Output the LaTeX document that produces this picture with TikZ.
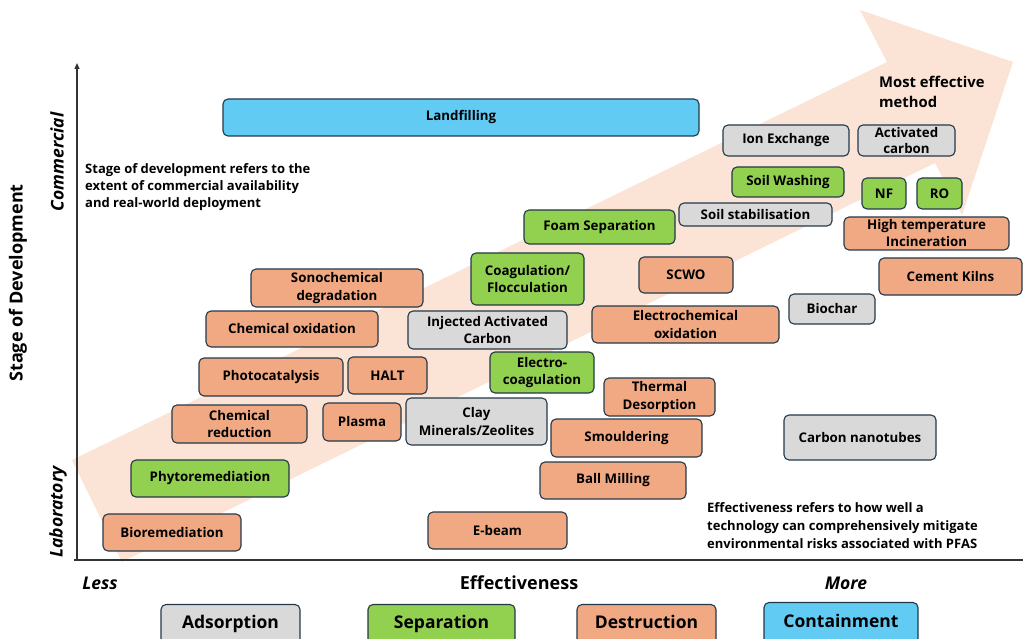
\documentclass[tikz,border=0pt]{standalone}
\usepackage{fontspec}
\setmainfont{Open Sans}
\usetikzlibrary{arrows.meta}
\definecolor{orangec}{HTML}{F1A983}
\definecolor{greenc}{HTML}{92D050}
\definecolor{grayc}{HTML}{D9D9D9}
\definecolor{bluec}{HTML}{61CBF3}
\definecolor{bordc}{HTML}{23394A}
\definecolor{arrowc}{HTML}{FBE3D6}
\definecolor{axisc}{HTML}{333333}
\tikzset{
  box/.style={draw=bordc, line width=1.1pt, rounded corners=5pt, align=center, inner sep=0pt,
    font=\bfseries\fontsize{13.3}{17.5}\selectfont, text=black},
  ads/.style={box, fill=grayc},
  sepa/.style={box, fill=greenc},
  des/.style={box, fill=orangec},
  con/.style={box, fill=bluec},
  legbox/.style={box, font=\bfseries\fontsize{17.5}{20}\selectfont, text height=12.5pt, text depth=4pt},
  note/.style={align=left, inner sep=0pt, anchor=west, font=\bfseries\fontsize{13}{17}\selectfont},
  axlab/.style={inner sep=0pt, font=\bfseries\itshape\fontsize{17.5}{20}\selectfont}
}
\begin{document}
\begin{tikzpicture}[x=1pt,y=-1pt]
\useasboundingbox (0,0) rectangle (1023,639);
\clip (0,0) rectangle (1023,639);
% big arrow
\fill[arrowc] (72,460) -- (887,62) -- (860,10) -- (1013,62) -- (962,215) -- (935,163) -- (122,562) -- cycle;
% axes
\coordinate (origin) at (77,560);
\coordinate (ytop) at (77,63);
\coordinate (xleft) at (74,560);
\coordinate (xright) at (1023,560);
\draw[axisc, line width=1.3pt, -{Triangle[length=6pt,width=5pt]}] (origin) -- (ytop);
\draw[axisc, line width=1.3pt] (xleft) -- (xright);
% axis labels
\node[rotate=90, inner sep=0pt, font=\bfseries\fontsize{18}{20}\selectfont] (ylab) at (18,283) {Stage of Development};
\node[axlab, rotate=90] (comm) at (57,162) {Commercial};
\node[axlab, rotate=90] (lab) at (58,512) {Laboratory};
\node[axlab] (less) at (100,583) {Less};
\node[inner sep=0pt, font=\bfseries\fontsize{18}{20}\selectfont] (eff) at (519,583) {Effectiveness};
\node[axlab] (more) at (846,583) {More};
% notes
\node[note] (n1) at (85,187) {Stage of development refers to the\\extent of commercial availability\\and real-world deployment};
\node[note, font=\bfseries\fontsize{13}{18}\selectfont] (n2) at (707,526) {Effectiveness refers to how well a\\technology can comprehensively mitigate\\environmental risks associated with PFAS};
\node[note, font=\bfseries\fontsize{14.8}{20}\selectfont] (most) at (879,92) {Most effective\\method};
% boxes
\node[con, minimum width=476pt, minimum height=37pt] (landfill) at (461,117.5) {Landfilling};
\node[ads, minimum width=126pt, minimum height=31pt] (ionex) at (786,140.5) {Ion Exchange};
\node[ads, minimum width=97pt, minimum height=31pt, font=\bfseries\fontsize{13.3}{16.5}\selectfont] (actc) at (906.5,140.5) {Activated\\carbon};
\node[sepa, minimum width=112pt, minimum height=30pt] (soilw) at (788,182) {Soil Washing};
\node[sepa, minimum width=44pt, minimum height=31pt] (nf) at (884,193.5) {NF};
\node[sepa, minimum width=45pt, minimum height=31pt] (ro) at (939.5,193.5) {RO};
\node[ads, minimum width=153pt, minimum height=23pt] (soils) at (755.5,214.5) {Soil stabilisation};
\node[sepa, minimum width=151pt, minimum height=34pt] (foam) at (599.5,227) {Foam Separation};
\node[des, minimum width=165pt, minimum height=33pt, font=\bfseries\fontsize{13.3}{17}\selectfont] (hti) at (926.5,233.5) {High temperature\\Incineration};
\node[des, minimum width=172pt, minimum height=38pt] (sono) at (337,288) {Sonochemical\\degradation};
\node[sepa, minimum width=113pt, minimum height=52pt] (coag) at (527.5,279) {Coagulation/\\Flocculation};
\node[des, minimum width=94pt, minimum height=36pt] (scwo) at (686,275) {SCWO};
\node[des, minimum width=143pt, minimum height=37pt] (cement) at (950.5,276.5) {Cement Kilns};
\node[ads, minimum width=86pt, minimum height=30pt] (biochar) at (832,309) {Biochar};
\node[des, minimum width=172pt, minimum height=36pt] (chemox) at (292,329) {Chemical oxidation};
\node[ads, minimum width=159pt, minimum height=38pt] (iac) at (487.5,330) {Injected Activated\\Carbon};
\node[des, minimum width=187pt, minimum height=37pt] (echemox) at (685.5,324.5) {Electrochemical\\oxidation};
\node[des, minimum width=144pt, minimum height=38pt] (photo) at (271,377) {Photocatalysis};
\node[des, minimum width=79pt, minimum height=37pt] (halt) at (387.5,375.5) {HALT};
\node[sepa, minimum width=104pt, minimum height=41pt] (ecoag) at (542,372.5) {Electro-\\coagulation};
\node[des, minimum width=111pt, minimum height=38pt] (thermal) at (659.5,397) {Thermal\\Desorption};
\node[des, minimum width=135pt, minimum height=38pt] (chemred) at (239.5,424) {Chemical\\reduction};
\node[des, minimum width=78pt, minimum height=38pt] (plasma) at (362,422) {Plasma};
\node[ads, minimum width=141pt, minimum height=47pt, font=\bfseries\fontsize{13.3}{18}\selectfont] (clay) at (476.5,421.5) {Clay\\Minerals/Zeolites};
\node[des, minimum width=151pt, minimum height=38pt] (smoul) at (626.5,438) {Smouldering};
\node[ads, minimum width=152pt, minimum height=45pt] (cnt) at (860,437.5) {Carbon nanotubes};
\node[sepa, minimum width=158pt, minimum height=37pt] (phyto) at (210,478.5) {Phytoremediation};
\node[des, minimum width=146pt, minimum height=37pt] (ball) at (613,480.5) {Ball Milling};
\node[des, minimum width=138pt, minimum height=37pt] (biorem) at (172,532.5) {Bioremediation};
\node[des, minimum width=139pt, minimum height=37pt] (ebeam) at (497.5,530.5) {E-beam};
% legend
\node[legbox, fill=grayc, minimum width=139pt, minimum height=40pt] (lads) at (230.5,624.5) {Adsorption};
\node[legbox, fill=greenc, minimum width=147pt, minimum height=40pt] (lsep) at (441.5,624.5) {Separation};
\node[legbox, fill=orangec, minimum width=139pt, minimum height=40pt] (ldes) at (646.5,624.5) {Destruction};
\node[legbox, fill=bluec, minimum width=154pt, minimum height=42pt] (lcon) at (841,623.5) {Containment};
\end{tikzpicture}
\end{document}
